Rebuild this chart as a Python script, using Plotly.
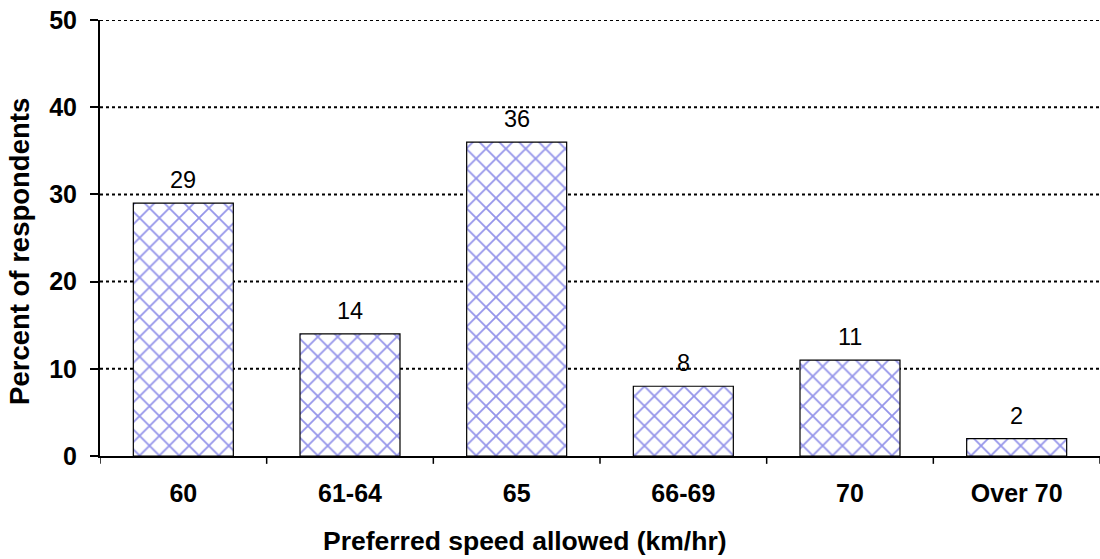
import plotly.graph_objects as go

categories = ["60", "61-64", "65", "66-69", "70", "Over 70"]
values = [29, 14, 36, 8, 11, 2]
y_ticks = [0, 10, 20, 30, 40, 50]

FONT = "Liberation Sans, Arial"

fig = go.Figure()
fig.add_trace(go.Bar(
    x=categories, y=values, width=0.6,
    marker=dict(color="white", line=dict(color="black", width=1.2),
                pattern=dict(shape="x", fgcolor="#2a2ad4", bgcolor="white", size=14, solidity=0.24, fillmode="overlay")),
))

for i, v in enumerate(values):
    fig.add_annotation(x=i, y=v, text=str(v), showarrow=False, yanchor="bottom", yshift=8,
                       font=dict(family=FONT, size=23.5, color="black"))

for yv in y_ticks[1:]:
    fig.add_shape(type="line", xref="paper", yref="y", x0=0, x1=1, y0=yv, y1=yv,
                  line=dict(color="black", width=2, dash="dot"), layer="below")

fig.update_layout(
    width=1100, height=559, margin=dict(l=100, r=0, t=20, b=103),
    paper_bgcolor="white", plot_bgcolor="white", showlegend=False,
    font=dict(family=FONT, color="black"),
    xaxis=dict(type="category", range=[-0.5, len(categories) - 0.5],
               showline=True, linecolor="black", linewidth=2, ticks="", showgrid=False,
               tickfont=dict(size=25, family=FONT, weight="bold"), ticklabelstandoff=14, tickangle=0),
    yaxis=dict(range=[0, 50], tickvals=y_ticks, showline=True, linecolor="black", linewidth=2,
               ticks="outside", ticklen=8, tickwidth=1.5, tickcolor="black", showgrid=False, zeroline=False,
               tickfont=dict(size=25, family=FONT, weight="bold"), ticklabelstandoff=8),
    bargap=0.4,
)

# category-boundary ticks on the x axis
for i in range(len(categories) + 1):
    fig.add_shape(type="line", xref="x", yref="paper", x0=i - 0.5, x1=i - 0.5, y0=0, y1=-0.018,
                  line=dict(color="black", width=1.5))

fig.add_annotation(text="<b>Preferred speed allowed (km/hr)</b>", xref="paper", yref="paper",
                   x=0.425, y=-0.195, yanchor="middle", showarrow=False, font=dict(size=26.5, family=FONT))
fig.add_annotation(text="<b>Percent of respondents</b>", xref="paper", yref="paper",
                   x=-0.08, y=0.468, textangle=-90, xanchor="center", yanchor="middle",
                   showarrow=False, font=dict(size=27.5, family=FONT))

fig.write_html("out.html")
